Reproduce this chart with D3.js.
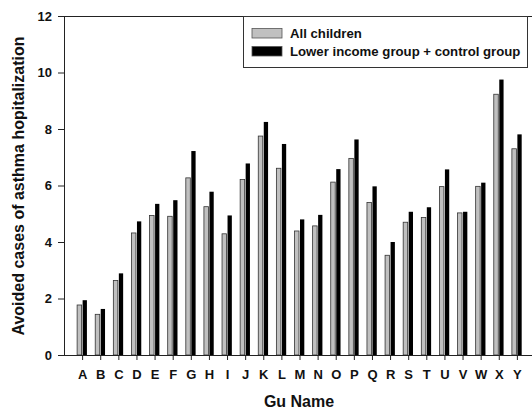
<!DOCTYPE html>
<html>
<head>
<meta charset="utf-8">
<script src="https://cdn.jsdelivr.net/npm/d3@7"></script>
<style>
  body { margin: 0; background: #fff; }
  text { font-family: Arial, "Liberation Sans", sans-serif; font-weight: bold; fill: #111; }
</style>
</head>
<body>
<div id="chart"></div>
<script>
// data
var guNames = ["A","B","C","D","E","F","G","H","I","J","K","L","M","N","O","P","Q","R","S","T","U","V","W","X","Y"];
var allChildren = [1.77,1.44,2.64,4.32,4.94,4.91,6.27,5.25,4.29,6.21,7.75,6.61,4.39,4.57,6.12,6.96,5.40,3.53,4.70,4.87,5.96,5.03,5.97,9.23,7.30];
var lowerIncome = [1.94,1.63,2.89,4.73,5.35,5.48,7.22,5.78,4.94,6.78,8.25,7.47,4.80,4.96,6.58,7.63,5.97,4.00,5.07,5.23,6.57,5.07,6.10,9.75,7.81];
var yTicks = [0,2,4,6,8,10,12];
var seriesNames = ["All children", "Lower income group + control group"];

// dimensions (not "top": that clashes with window.top)
var width = 532, height = 412;
var plotLeft = 64, plotTop = 16, plotBottom = 355;

var svg = d3.select("#chart").append("svg")
  .attr("width", width)
  .attr("height", height);

var x = d3.scalePoint()
  .domain(guNames)
  .range([plotLeft, 535])
  .padding(1);

var y = d3.scaleLinear()
  .domain([0, 12])
  .range([plotBottom, plotTop]);

// frame top line
svg.append("line")
  .attr("x1", plotLeft).attr("x2", width)
  .attr("y1", plotTop + 0.5).attr("y2", plotTop + 0.5)
  .attr("stroke", "#222").attr("stroke-width", 1);

// bars
svg.append("g").selectAll("rect")
  .data(allChildren)
  .enter()
  .append("rect")
    .attr("x", function(d, i) { return x(guNames[i]) - 5; })
    .attr("y", function(d) { return y(d); })
    .attr("width", 4.5)
    .attr("height", function(d) { return plotBottom - y(d); })
    .attr("fill", "#c0c0c0")
    .attr("stroke", "#333")
    .attr("stroke-width", 0.8);

svg.append("g").selectAll("rect")
  .data(lowerIncome)
  .enter()
  .append("rect")
    .attr("x", function(d, i) { return x(guNames[i]) + 0.5; })
    .attr("y", function(d) { return y(d); })
    .attr("width", 4.3)
    .attr("height", function(d) { return plotBottom - y(d); })
    .attr("fill", "#000");

// y axis
var yAxis = svg.append("g")
  .attr("transform", "translate(" + plotLeft + ",0)")
  .call(d3.axisLeft(y).tickValues(yTicks).tickSize(6).tickPadding(6).tickSizeOuter(0));
yAxis.selectAll("text").style("font-size", "13px");

// x axis
var xAxis = svg.append("g")
  .attr("transform", "translate(0," + plotBottom + ")")
  .call(d3.axisBottom(x).tickSize(5).tickPadding(10).tickSizeOuter(0));
xAxis.select(".domain").attr("d", "M" + plotLeft + ",0.5H" + width);
xAxis.selectAll("text").style("font-size", "13px");

svg.selectAll(".domain, .tick line").attr("stroke", "#222");

// axis titles
svg.append("text")
  .attr("transform", "translate(24," + 186 + ") rotate(-90)")
  .attr("text-anchor", "middle")
  .style("font-size", "16px")
  .text("Avoided cases of asthma hopitalization");

svg.append("text")
  .attr("x", 299)
  .attr("y", 407)
  .attr("text-anchor", "middle")
  .style("font-size", "16px")
  .text("Gu Name");

// legend
var legend = svg.append("g");
legend.append("rect")
  .attr("x", 243.5).attr("y", plotTop + 0.5)
  .attr("width", 284).attr("height", 51)
  .attr("fill", "#fff")
  .attr("stroke", "#333");

var legendFill = ["#c0c0c0", "#000"];
legend.selectAll(".swatch")
  .data(seriesNames)
  .enter()
  .append("rect")
    .attr("class", "swatch")
    .attr("x", 252)
    .attr("y", function(d, i) { return 28.5 + i * 18; })
    .attr("width", 30)
    .attr("height", 9.5)
    .attr("fill", function(d, i) { return legendFill[i]; })
    .attr("stroke", "#555")
    .attr("stroke-width", 0.8);

legend.selectAll(".label")
  .data(seriesNames)
  .enter()
  .append("text")
    .attr("class", "label")
    .attr("x", 290)
    .attr("y", function(d, i) { return 38 + i * 18; })
    .style("font-size", "13.2px")
    .text(function(d) { return d; });
</script>
</body>
</html>
